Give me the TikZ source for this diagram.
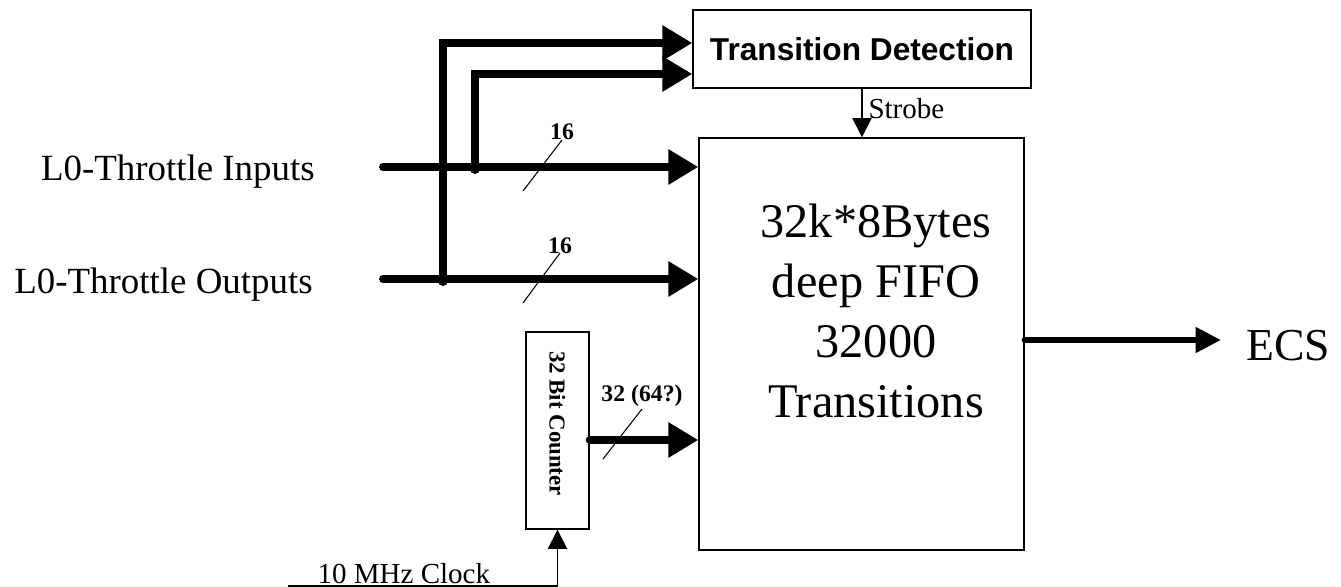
\documentclass[tikz,border=0pt]{standalone}
\usepackage{fontspec}
\setmainfont{Liberation Serif}
\setsansfont{Liberation Sans}
\usepackage{graphicx}
\usetikzlibrary{positioning,arrows.meta}

\begin{document}
\begin{tikzpicture}[
  x=0.2mm, y=-0.2mm,
  every node/.style={align=center},
  blk/.style   ={rectangle, draw=black, line width=0.75pt, inner sep=0pt},
  bus/.style   ={line width=4.5pt, line cap=round, -{Triangle[length=17pt,width=19pt]}},
  outbus/.style={line width=3.4pt, line cap=round, -{Triangle[length=14.5pt,width=14pt]}},
  sig/.style   ={line width=0.75pt, -{Triangle[length=11pt,width=11pt]}},
  tick/.style  ={line width=0.6pt},
  wlbl/.style  ={font=\fontsize{13.5}{16}\selectfont\bfseries, inner sep=0pt, anchor=base},
  big/.style   ={font=\fontsize{27.5}{34}\selectfont},
  lbl/.style   ={font=\fontsize{21}{25}\selectfont, inner sep=0pt, anchor=base east},
  small/.style ={font=\fontsize{16.5}{20}\selectfont},
]
\useasboundingbox (0,0) rectangle (1341,587);

% Blocks
\node[blk, minimum width=67.6mm, minimum height=15.6mm,
      font=\sffamily\bfseries\fontsize{18}{22}\selectfont] (tdet) at (862,49) {Transition Detection};
\node[blk, minimum width=65mm, minimum height=82.4mm] (fifo) at (861.5,344) {};
\node[big] (fifotxt) at (876,311) {32k*8Bytes\\deep FIFO\\32000\\Transitions};
\node[blk, minimum width=12.6mm, minimum height=39.4mm,
      font=\fontsize{13}{15}\selectfont\bfseries] (cnt) at (557.5,430.5) {\rotatebox{-90}{32 Bit Counter\hspace{2.8mm}}};
\node[font=\fontsize{26}{30}\selectfont, inner sep=0pt, anchor=west] (ecs) at (1246,346) {ECS};

% Input labels
\node[lbl] (inlbl)  at (315,181) {L0-Throttle Inputs};
\node[lbl] (outlbl) at (313,293) {L0-Throttle Outputs};

% Bus start points and taps
\coordinate (inS)  at (383,167);
\coordinate (outS) at (383,279);
\coordinate (tapA) at (443,279);
\coordinate (tapB) at (475,167);
\coordinate (clk)  at (288,586);

% Busses into the FIFO
\draw[bus] (inS)  -- (inS -| fifo.west);
\draw[bus] (outS) -- (outS -| fifo.west);
\draw[bus] (cnt.east |- 0,440) -- (fifo.west |- 0,440);

% Taps to transition detection
\draw[bus] (tapA) |- (tdet.west |- 0,43);
\draw[bus] (tapB) |- (tdet.west |- 0,74);
\fill (tapA) ++(0,2) circle (5);
\fill (tapB) ++(0,2) circle (5);

% Bus widths
\draw[tick] (523,191) -- (562,140) node[wlbl] {16};
\draw[tick] (523,303) -- (560,253) node[wlbl] {16};
\draw[tick] (603,459) -- (642,409) node[wlbl, yshift=1.6mm] {32 (64?)};

% Output and control signals
\draw[outbus] (fifo.east |- 0,340) -- (ecs.west |- 0,340) [shorten >=5mm];
\draw[sig] (tdet.south) -- (tdet.south |- fifo.north)
   node[pos=0.4, right, small] {Strobe};
\draw[sig] (clk) -| (cnt.south)
   node[pos=0.215, above=1pt, inner sep=0pt, small] {10 MHz Clock};

\end{tikzpicture}
\end{document}
